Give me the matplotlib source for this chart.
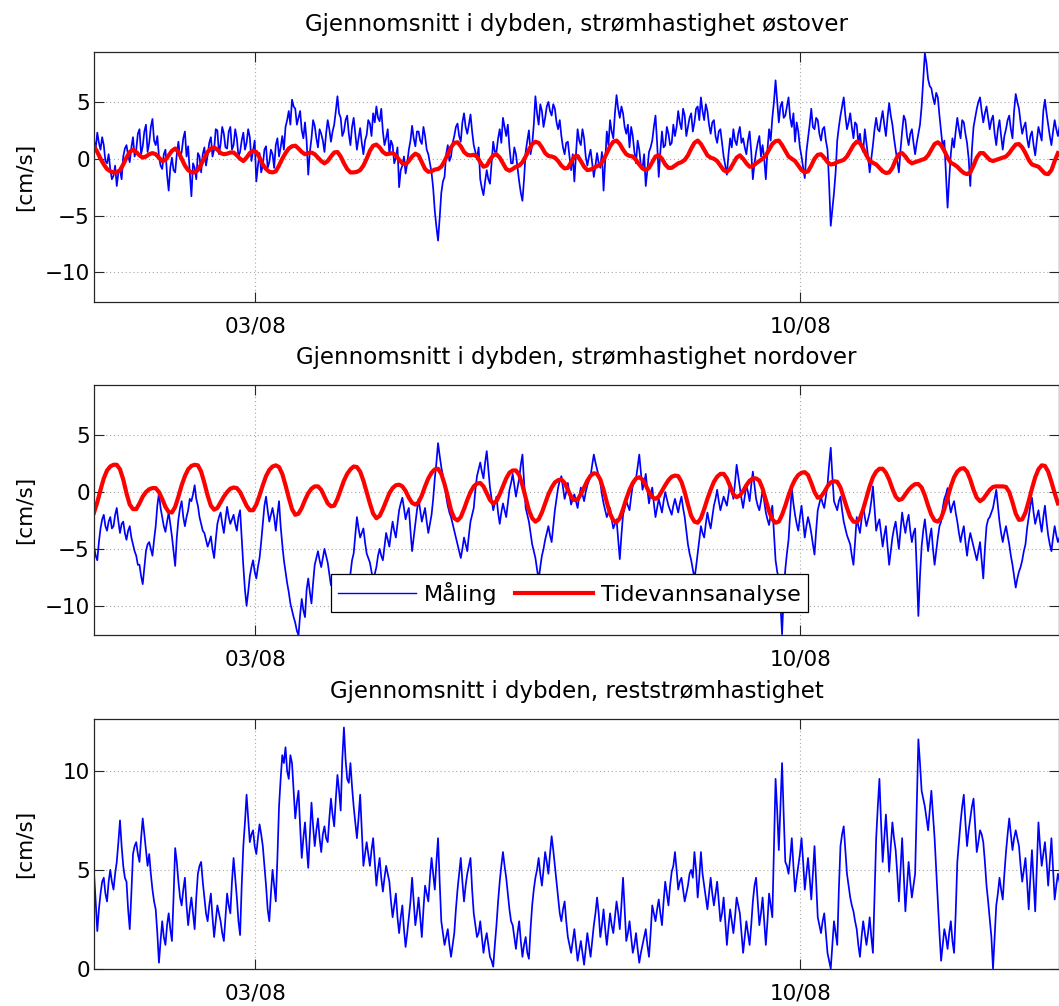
import numpy as np
import matplotlib
matplotlib.use("Agg")
import matplotlib.pyplot as plt
import matplotlib.dates as mdates

plt.rcParams['font.family'] = ['DejaVu Sans']

# measurements every 30 min, tidal analysis every hour, starting 31/07 22:20
start = np.datetime64('2012-07-31T22:20')
x_end = np.datetime64('2012-08-13T07:40')
tick_dates = [np.datetime64('2012-08-03'), np.datetime64('2012-08-10')]

titles = ['Gjennomsnitt i dybden, strømhastighet østover',
          'Gjennomsnitt i dybden, strømhastighet nordover',
          'Gjennomsnitt i dybden, reststrømhastighet']
legend_labels = ['Måling', 'Tidevannsanalyse']

# east component, measured [cm/s], on the hour (:20)
east_meas = [
    1.6, 2.3, 0.8, 1.2, -0.4, -0.9, -1.5, -2.4, -1.0, 0.2,
    1.2, -0.3, 1.9, 0.8, 2.6, 1.1, 3.0, 1.4, 3.5, 1.2,
    0.2, -0.9, 0.8, -2.8, 0.1, -1.2, 1.5, 0.6, 2.4, 1.1,
    -3.3, -0.8, 0.5, -1.2, 1.0, 0.3, 1.9, 0.8, 2.5, 1.3,
    2.2, 0.9, 2.8, 1.2, 1.8, 0.6, 2.3, 1.4, 1.9, 0.7,
    -2.0, 0.5, -0.6, 1.1, -0.3, 0.4, 1.2, 0.2, 2.0, 2.8,
    4.2, 5.2, 4.4, 3.6, 2.5, 3.2, -1.4, 1.8, 2.9, 1.0,
    2.2, 0.6, 3.4, 1.5, 3.0, 5.5, 3.6, 2.4, 3.8, 1.2,
    3.6, 0.8, 2.7, 0.4, 2.1, 3.1, 4.0, 4.6, 3.3, 2.4,
    1.8, 0.4, 1.2, 0.1, -2.5, -0.6, -1.3, 0.8, 2.9, 1.1,
    2.4, 1.3, 2.0, 0.4, -1.2, -4.6, -7.2, -3.0, -1.6, 1.2,
    0.2, 2.0, 3.1, 1.5, 4.0, 2.2, 3.9, 1.2, 0.0, -1.8,
    -3.2, -1.0, -2.2, 1.5, 0.6, 2.6, 3.6, 2.0, 1.0, -0.4,
    0.4, -2.0, -3.7, 0.6, 2.5, 1.2, 5.5, 3.0, 4.2, 3.6,
    5.0, 3.8, 4.4, 2.6, 2.0, 0.4, 1.5, -1.0, -2.0, 2.6,
    1.2, 1.8, -0.6, 0.8, -1.6, 0.5, -0.8, -2.8, 2.4, 3.4,
    1.8, 5.6, 3.6, 4.0, 2.2, 1.0, 2.0, -0.4, 0.8, -0.8,
    -2.4, 0.6, 1.6, 3.8, -1.6, 2.4, 1.2, 2.2, 1.4, 2.0,
    4.2, 2.6, 3.8, 2.8, 4.0, 3.2, 4.6, 5.4, 3.4, 4.2,
    2.2, 3.4, 1.4, 2.6, 0.2, -1.4, 1.8, 2.6, 1.2, 2.8,
    1.8, 0.4, 2.4, -1.8, 0.6, 2.0, 1.2, -1.8, 2.6, 3.6,
    6.9, 3.2, 5.0, 3.8, 5.4, 2.8, 1.5, 2.4, 0.2, -1.7,
    1.8, 4.4, 2.6, 3.4, 1.6, 2.8, 0.8, -5.9, -3.0, 1.6,
    3.8, 5.4, 2.6, 4.0, 1.8, 3.0, 2.2, 0.6, 1.4, -1.2,
    1.2, 3.6, 2.4, 4.2, 2.0, 4.9, 3.0, 0.8, -1.2, 2.4,
    3.4, 1.2, 2.6, 0.4, 2.2, 4.6, 9.3, 7.0, 6.2, 4.8,
    5.4, 2.4, 1.6, -4.3, 0.4, 1.0, 3.6, 1.8, 3.2, 1.4,
    -2.4, 2.8, 4.4, 5.4, 3.2, 4.6, 2.6, 3.8, 1.2, 3.4,
    0.8, 2.6, 3.8, 1.8, 5.7, 4.4, 2.2, 3.2, 1.0, 2.4,
    0.3, 2.8, 1.6, 5.2, 3.0, 1.2, 3.4, 2.0,
]
# east component, measured [cm/s], half past (:50)
east_half = [
    0.9, 1.4, 1.9, -0.2, 0.4, -1.8, -0.6, -1.2, -1.8, 0.9,
    0.3, 1.0, 0.2, 2.2, 0.4, 2.4, 0.6, 2.8, 1.6, 2.0,
    -0.6, 0.4, -1.4, -0.8, -1.0, 0.4, 0.0, 1.8, 0.2, -1.2,
    -0.4, -1.8, 0.2, 0.4, -0.6, 1.4, 0.2, 2.6, 0.4, 2.8,
    1.0, 2.4, 0.8, 2.6, 0.2, 1.6, 0.8, 2.6, -0.2, 1.6,
    -0.6, -1.2, 0.8, -0.8, 0.8, -0.8, 1.8, 1.0, 0.8, 3.4,
    3.0, 4.6, 3.0, 4.2, 1.8, 1.6, 0.6, 3.4, 1.8, 2.6,
    1.6, 2.2, 2.6, 2.4, 4.2, 4.0, 2.0, 3.4, 2.2, 2.8,
    2.2, 1.8, 1.4, 1.6, 3.4, 2.0, 3.2, 3.6, 4.4, 1.2,
    2.6, 1.6, -0.4, 1.0, -1.0, 0.2, -0.4, 1.6, 1.8, 2.4,
    1.6, 2.8, 0.8, -0.4, -2.6, -6.0, -5.2, -2.0, 0.4, -0.2,
    1.4, 2.8, 2.0, 3.2, 2.8, 3.0, 2.4, 0.6, 1.0, -2.6,
    -2.0, -1.8, -0.4, 0.6, 1.8, 1.4, 2.8, 3.0, -0.4, 1.0,
    -0.8, -3.0, -1.8, 1.6, 0.4, 3.0, 4.0, 4.8, 2.8, 4.6,
    4.2, 4.8, 3.2, 3.4, 1.0, 1.4, 0.2, 0.4, 0.4, 1.6,
    2.6, 0.2, 0.2, -0.4, -0.6, -0.4, 0.6, -0.2, 1.2, 2.4,
    4.0, 4.4, 4.6, 2.8, 3.0, 2.8, 0.6, 1.6, -0.6, 0.4,
    -1.0, 1.0, 2.8, 1.4, 0.6, 1.0, 2.8, 1.2, 3.0, 2.8,
    3.2, 4.4, 2.0, 3.6, 2.4, 4.4, 3.4, 4.2, 4.8, 3.0,
    3.2, 2.0, 2.4, 1.4, -0.6, 0.4, 1.0, 1.6, 2.2, 1.4,
    1.0, 1.6, 0.6, -0.4, 1.4, 0.2, 0.0, 0.8, 1.6, 5.0,
    5.0, 4.6, 3.6, 4.6, 3.6, 4.0, 3.2, 1.0, -0.8, 0.6,
    3.0, 2.8, 3.6, 2.2, 2.6, 1.6, -2.2, -4.4, -1.2, 2.8,
    4.6, 3.8, 3.2, 2.8, 3.2, 1.4, 1.0, 2.6, 0.2, 0.0,
    2.6, 2.6, 3.4, 3.0, 3.6, 3.8, 1.8, -0.2, 0.8, 3.8,
    2.0, 2.2, 1.4, 1.4, 3.0, 7.0, 8.4, 6.4, 5.4, 5.8,
    3.8, 1.0, -1.4, -1.8, 1.8, 2.4, 2.6, 3.4, 2.2, 0.0,
    0.8, 3.6, 5.0, 4.2, 4.0, 3.6, 3.4, 2.2, 2.6, 2.0,
    2.0, 3.4, 2.6, 4.2, 5.0, 3.2, 2.8, 1.8, 2.0, 1.2,
    1.6, 2.2, 4.2, 4.0, 2.0, 2.4, 2.6, 2.8,
]

# east component, tidal analysis [cm/s], hourly
east_tide = [
    1.1, 0.6, 0.0, -0.5, -0.9, -1.1, -1.2, -1.2, -1.0, -0.5,
    0.1, 0.6, 0.8, 0.6, 0.3, 0.1, 0.2, 0.4, 0.5, 0.4,
    0.1, -0.2, -0.1, 0.3, 0.7, 0.9, 0.6, 0.0, -0.6, -1.0,
    -1.2, -1.2, -1.0, -0.5, 0.1, 0.6, 0.9, 1.0, 0.8, 0.5,
    0.4, 0.45, 0.55, 0.55, 0.3, 0.0, -0.2, 0.1, 0.5, 0.7,
    0.6, 0.1, -0.5, -0.9, -1.15, -1.2, -1.1, -0.6, 0.0, 0.5,
    0.9, 1.1, 1.15, 0.9, 0.6, 0.4, 0.5, 0.55, 0.4, 0.1,
    -0.2, -0.4, -0.2, 0.2, 0.55, 0.6, 0.2, -0.4, -0.9, -1.2,
    -1.2, -1.15, -1.0, -0.6, 0.0, 0.7, 1.15, 1.25, 1.0, 0.6,
    0.4, 0.45, 0.5, 0.3, -0.1, -0.4, -0.5, -0.2, 0.2, 0.45,
    0.3, -0.3, -0.9, -1.15, -1.1, -0.95, -0.9, -0.7, -0.2, 0.4,
    1.0, 1.4, 1.45, 1.1, 0.6, 0.35, 0.3, 0.35, 0.2, -0.3,
    -0.7, -0.6, -0.1, 0.3, 0.4, 0.1, -0.4, -0.9, -1.05, -0.9,
    -0.7, -0.6, -0.3, 0.2, 0.8, 1.3, 1.5, 1.4, 1.0, 0.5,
    0.25, 0.2, 0.1, -0.2, -0.6, -0.85, -0.8, -0.3, 0.2, 0.25,
    -0.2, -0.7, -1.0, -0.95, -0.8, -0.65, -0.5, -0.1, 0.5, 1.1,
    1.5, 1.6, 1.3, 0.8, 0.4, 0.25, 0.2, -0.1, -0.5, -0.85,
    -1.0, -0.8, -0.3, 0.2, 0.3, 0.0, -0.5, -0.8, -0.8, -0.6,
    -0.4, -0.3, -0.1, 0.3, 0.9, 1.4, 1.6, 1.3, 0.8, 0.3,
    0.1, 0.0, -0.2, -0.6, -1.0, -1.15, -0.9, -0.4, 0.1, 0.3,
    0.0, -0.4, -0.7, -0.65, -0.4, -0.2, 0.0, 0.3, 0.8, 1.3,
    1.55, 1.6, 1.2, 0.7, 0.2, 0.0, -0.2, -0.6, -1.0, -1.2,
    -1.1, -0.6, 0.0, 0.35, 0.4, 0.1, -0.3, -0.5, -0.45, -0.3,
    -0.2, -0.1, 0.2, 0.7, 1.2, 1.5, 1.4, 0.9, 0.3, -0.2,
    -0.35, -0.5, -0.8, -1.1, -1.25, -1.2, -0.8, -0.1, 0.4, 0.5,
    0.2, -0.2, -0.4, -0.3, -0.2, -0.1, 0.0, 0.3, 0.8, 1.3,
    1.45, 1.2, 0.7, 0.1, -0.35, -0.5, -0.7, -1.0, -1.25, -1.35,
    -1.2, -0.6, 0.1, 0.5, 0.5, 0.2, -0.1, -0.2, -0.1, 0.0,
    0.1, 0.2, 0.5, 0.9, 1.25, 1.3, 1.0, 0.5, -0.1, -0.5,
    -0.6, -0.7, -1.0, -1.3, -1.35, -1.0, -0.2, 0.5,
]

# north component, measured [cm/s], on the hour (:20)
north_meas = [
    -4.8, -6.0, -3.2, -2.0, -3.4, -2.2, -3.0, -1.4, -3.6, -2.6,
    -4.2, -3.0, -4.6, -5.6, -6.4, -8.1, -5.2, -4.4, -5.6, -3.0,
    -0.1, -2.2, -3.5, -1.8, -3.9, -6.5, -2.4, -0.8, -3.0, -1.6,
    -0.8, 0.6, -1.2, -2.8, -3.6, -4.8, -3.9, -5.8, -2.8, -1.8,
    -3.6, -1.3, -2.8, -2.0, -3.4, -1.6, -6.5, -10.0, -7.4, -6.0,
    -7.6, -5.8, -2.8, -0.4, -2.6, -1.4, -3.4, -0.8, -4.6, -7.0,
    -8.8, -10.4, -11.5, -12.6, -9.4, -11.0, -7.6, -9.8, -6.4, -5.2,
    -6.6, -5.0, -6.2, -8.2, -7.4, -9.2, -8.6, -9.8, -8.0, -7.2,
    -5.4, -2.2, -4.0, -3.2, -5.4, -6.2, -7.8, -6.6, -5.0, -6.0,
    -3.6, -4.8, -2.6, -4.0, -1.6, -0.5, -2.4, -1.4, -5.2, -2.8,
    -0.6, -2.6, -1.4, -3.6, -2.0, 1.2, 4.3, 2.2, 0.6, -1.2,
    -2.2, -3.4, -4.6, -5.8, -4.0, -5.2, -2.6, -1.4, 1.4, 2.6,
    1.2, 3.6, 0.4, -1.6, -0.4, -2.8, -1.0, -2.2, 0.2, 1.6,
    -0.4, 1.2, 3.3, -1.4, -2.6, -4.6, -5.8, -7.7, -5.6, -4.2,
    -3.0, -4.4, -1.6, 0.4, 1.4, -0.6, 0.8, -1.1, -0.2, -1.4,
    0.4, -0.8, 0.6, 1.4, 3.3, 2.0, 0.8, -1.0, -2.2, -1.4,
    -3.2, -2.4, -5.9, -2.0, -0.8, -1.6, 0.6, 1.2, 3.3, 0.2,
    1.6, -1.0, 0.4, -2.2, -0.6, -1.8, 0.0, -1.2, -2.0, -0.6,
    -1.8, -0.4, -2.2, -4.6, -6.0, -7.6, -5.4, -3.0, -4.0, -1.8,
    -3.2, -1.2, 0.2, -1.6, -0.4, -1.2, 0.8, -0.6, 2.4, 0.4,
    -1.4, 0.6, -0.8, 1.8, -0.6, -1.6, 0.2, -1.8, -2.9, -1.2,
    -6.0, -7.6, -12.5, -6.8, -4.2, 0.35, -2.0, -3.4, -1.2, -4.0,
    -2.2, -3.6, -5.5, -1.6, -0.4, -1.4, 0.6, 3.9, -0.8, -1.6,
    -0.4, -2.6, -3.8, -4.6, -6.4, -2.2, -3.6, -1.2, -3.0, -1.8,
    0.5, -3.4, -2.4, -4.8, -3.0, -6.4, -4.0, -2.6, -5.0, -1.8,
    -3.6, -2.0, -4.4, -3.2, -10.9, -4.8, -2.4, -5.2, -3.2, -6.4,
    -4.0, -2.6, -0.6, 0.35, -1.8, -0.8, -2.6, -4.4, -3.0, -5.6,
    -3.6, -4.8, -6.0, -4.4, -7.6, -3.0, -2.2, -1.4, 0.2, -2.6,
    -4.4, -3.0, -4.6, -6.4, -8.4, -7.0, -6.0, -4.6, -2.2, -0.5,
    -2.8, -1.6, -3.5, -1.2, -3.8, -5.2, -3.0, -4.4,
]
# north component, measured [cm/s], half past (:50)
north_half = [
    -5.6, -4.4, -2.4, -3.0, -2.6, -3.2, -2.0, -2.6, -2.8, -3.6,
    -3.4, -4.0, -5.2, -6.4, -7.4, -6.6, -4.6, -5.0, -4.2, -1.2,
    -1.4, -3.0, -2.6, -2.8, -5.2, -4.0, -1.4, -2.2, -2.2, -0.6,
    -0.2, -0.6, -2.2, -3.4, -4.2, -4.4, -5.0, -4.2, -2.2, -2.8,
    -2.4, -2.2, -2.4, -2.8, -2.2, -4.0, -8.6, -8.8, -6.6, -7.0,
    -6.6, -4.4, -1.2, -1.6, -2.0, -2.2, -2.0, -3.0, -6.0, -8.0,
    -9.8, -11.0, -12.2, -10.8, -10.4, -8.6, -8.8, -8.0, -5.8, -6.0,
    -5.8, -5.6, -7.2, -7.8, -8.4, -9.0, -9.4, -8.8, -7.6, -6.0,
    -3.8, -3.2, -3.6, -4.4, -5.8, -7.0, -7.2, -5.6, -5.6, -4.8,
    -4.2, -3.6, -3.4, -2.8, -1.0, -1.4, -1.8, -3.4, -4.0, -1.6,
    -1.6, -2.0, -2.6, -2.8, -0.6, 2.6, 3.2, 1.4, -0.4, -1.8,
    -2.8, -4.0, -5.2, -5.0, -4.6, -3.8, -2.0, 0.2, 2.0, 1.8,
    2.6, 2.0, -0.6, -1.0, -1.8, -1.8, -1.6, -1.0, 0.8, 0.6,
    0.4, 2.4, 1.0, -2.0, -3.6, -5.2, -6.8, -6.6, -5.0, -3.6,
    -3.8, -3.0, -0.6, 1.0, 0.4, 0.0, -0.2, -0.6, -0.8, -0.4,
    -0.2, 0.0, 1.0, 2.4, 2.6, 1.4, -0.2, -1.6, -1.8, -2.4,
    -2.8, -4.2, -3.8, -1.4, -1.2, -0.4, 0.8, 2.2, 1.8, 0.8,
    0.2, -0.2, -1.0, -1.4, -1.2, -0.8, -0.6, -1.6, -1.2, -1.2,
    -1.0, -1.4, -3.4, -5.4, -6.8, -6.6, -4.2, -3.6, -2.8, -2.6,
    -2.2, -0.6, -0.8, -1.0, -0.8, -0.2, 0.2, 0.8, 1.4, -0.6,
    -0.4, 0.0, 0.6, 0.6, -1.2, -0.8, -0.8, -2.4, -2.0, -3.6,
    -7.0, -9.8, -9.0, -5.4, -2.0, -1.0, -2.8, -2.2, -2.6, -3.0,
    -2.8, -4.6, -3.4, -1.0, -1.0, -0.4, 2.4, 1.4, -1.2, -0.8,
    -1.6, -3.2, -4.2, -5.6, -4.4, -3.0, -2.4, -2.2, -2.4, -0.8,
    -1.4, -2.8, -3.6, -3.8, -4.8, -5.2, -3.2, -3.8, -3.4, -2.8,
    -2.6, -3.4, -3.6, -6.8, -7.4, -3.4, -3.8, -4.0, -5.0, -5.2,
    -3.0, -1.4, -0.2, -1.0, -1.2, -1.8, -3.6, -3.6, -4.4, -4.4,
    -4.2, -5.4, -5.2, -6.0, -5.0, -2.4, -1.8, -0.6, -1.2, -3.6,
    -3.6, -3.8, -5.6, -7.4, -7.6, -6.6, -5.2, -3.2, -1.2, -1.8,
    -2.2, -2.6, -2.2, -2.6, -4.6, -4.0, -3.8, -4.0,
]

# north component, tidal analysis [cm/s], hourly
north_tide = [
    -1.8, -0.9, 0.2, 1.2, 1.9, 2.25, 2.4, 2.4, 2.0, 1.1,
    -0.1, -1.1, -1.5, -1.5, -1.0, -0.4, 0.0, 0.25, 0.35, 0.35,
    0.0, -0.6, -1.3, -1.75, -1.8, -1.3, -0.4, 0.6, 1.4, 2.0,
    2.3, 2.4, 2.35, 1.8, 0.8, -0.3, -1.2, -1.55, -1.4, -0.9,
    -0.4, 0.0, 0.3, 0.4, 0.35, 0.0, -0.6, -1.2, -1.6, -1.6,
    -1.1, -0.3, 0.6, 1.4, 1.95, 2.25, 2.35, 2.2, 1.6, 0.6,
    -0.5, -1.5, -2.0, -1.9, -1.4, -0.7, -0.1, 0.3, 0.5, 0.5,
    0.2, -0.4, -1.0, -1.25, -1.2, -0.6, 0.2, 1.0, 1.6, 2.0,
    2.25, 2.2, 1.8, 1.0, 0.0, -1.0, -1.9, -2.3, -2.1, -1.5,
    -0.8, -0.1, 0.35, 0.6, 0.65, 0.5, 0.1, -0.5, -0.95, -1.1,
    -0.9, -0.3, 0.5, 1.2, 1.7, 2.0, 2.05, 1.6, 0.7, -0.4,
    -1.6, -2.3, -2.5, -2.2, -1.5, -0.7, 0.0, 0.5, 0.75, 0.8,
    0.5, -0.1, -0.7, -1.0, -0.8, -0.2, 0.5, 1.2, 1.7, 1.9,
    1.9, 1.5, 0.6, -0.5, -1.6, -2.3, -2.6, -2.4, -1.8, -1.0,
    -0.2, 0.4, 0.85, 1.05, 1.1, 0.8, 0.2, -0.4, -0.7, -0.65,
    -0.2, 0.4, 1.0, 1.45, 1.65, 1.6, 1.1, 0.2, -0.9, -1.9,
    -2.5, -2.65, -2.3, -1.5, -0.6, 0.2, 0.8, 1.2, 1.3, 1.1,
    0.6, 0.0, -0.45, -0.6, -0.4, 0.1, 0.6, 1.05, 1.35, 1.45,
    1.4, 0.9, 0.0, -1.1, -2.1, -2.6, -2.7, -2.3, -1.5, -0.6,
    0.2, 0.9, 1.35, 1.6, 1.6, 1.2, 0.5, -0.2, -0.45, -0.3,
    0.1, 0.6, 1.0, 1.2, 1.2, 1.0, 0.3, -0.7, -1.7, -2.4,
    -2.7, -2.6, -2.0, -1.2, -0.3, 0.5, 1.1, 1.5, 1.7, 1.75,
    1.5, 0.8, 0.0, -0.5, -0.4, 0.0, 0.5, 0.85, 0.95, 0.9,
    0.4, -0.5, -1.4, -2.2, -2.6, -2.65, -2.3, -1.5, -0.5, 0.5,
    1.3, 1.8, 2.05, 2.05, 1.7, 1.1, 0.3, -0.4, -0.7, -0.6,
    -0.2, 0.2, 0.5, 0.7, 0.7, 0.4, -0.3, -1.2, -2.0, -2.5,
    -2.6, -2.3, -1.5, -0.5, 0.5, 1.3, 1.8, 2.05, 2.1, 1.8,
    1.1, 0.2, -0.5, -0.8, -0.6, -0.2, 0.2, 0.45, 0.5, 0.5,
    0.5, 0.45, 0.0, -0.9, -1.9, -2.45, -2.4, -1.8, -0.8, 0.3,
    1.3, 2.0, 2.35, 2.3, 1.8, 0.9, -0.1, -1.0,
]

# residual speed, measured [cm/s], on the hour (:20)
resid_meas = [
    4.8, 1.9, 3.8, 4.6, 3.4, 5.0, 4.0, 5.4, 7.5, 5.2,
    4.4, 2.0, 5.8, 6.4, 5.4, 7.6, 6.0, 5.8, 4.0, 3.0,
    0.3, 2.4, 1.2, 2.8, 1.4, 6.1, 4.4, 3.2, 4.6, 2.2,
    3.6, 2.0, 4.8, 5.4, 3.6, 2.4, 3.8, 1.6, 3.2, 2.4,
    1.4, 3.8, 2.8, 5.6, 3.6, 1.7, 6.2, 8.8, 6.4, 7.0,
    5.8, 7.3, 6.2, 4.2, 2.4, 5.0, 3.4, 8.2, 10.8, 11.2,
    9.6, 10.4, 7.6, 9.0, 5.6, 7.4, 5.1, 8.4, 6.2, 7.6,
    5.9, 7.2, 6.4, 8.6, 7.2, 9.8, 8.0, 12.2, 9.6, 10.4,
    8.2, 6.6, 8.8, 5.2, 6.4, 5.2, 6.6, 4.2, 5.6, 3.9,
    5.2, 4.4, 2.6, 3.8, 1.8, 3.2, 1.1, 2.6, 4.6, 2.2,
    3.6, 1.6, 4.2, 3.4, 5.6, 4.0, 6.6, 2.4, 1.2, 2.0,
    0.6, 1.8, 4.0, 5.6, 3.4, 4.8, 5.6, 2.8, 1.6, 2.4,
    0.8, 1.8, 0.6, 0.1, 2.2, 4.4, 5.9, 4.6, 3.0, 2.2,
    1.0, 2.4, 0.6, 1.6, 0.5, 3.2, 4.6, 5.6, 4.2, 5.9,
    4.8, 6.7, 5.2, 3.6, 2.4, 3.4, 1.6, 0.8, 2.0, 0.4,
    1.4, 0.2, 1.8, 0.6, 2.2, 3.6, 1.6, 3.0, 1.2, 2.8,
    1.8, 3.4, 2.0, 4.6, 1.4, 2.4, 0.8, 1.8, 0.3, 1.2,
    2.0, 0.6, 3.2, 2.4, 3.5, 2.2, 4.4, 3.2, 4.9, 5.9,
    4.0, 4.6, 3.4, 4.2, 5.0, 5.9, 3.6, 5.9, 4.2, 3.0,
    4.6, 3.2, 4.4, 2.4, 3.6, 1.2, 3.0, 1.8, 3.6, 2.8,
    0.8, 2.4, 1.2, 3.4, 4.6, 2.2, 3.6, 1.2, 3.8, 2.6,
    9.6, 6.0, 10.4, 5.4, 4.8, 6.6, 3.9, 5.2, 6.6, 4.0,
    5.6, 3.5, 6.2, 2.6, 1.8, 2.8, 0.8, 0.0, 2.4, 1.2,
    6.2, 7.2, 4.8, 3.6, 2.9, 2.0, 0.6, 2.4, 1.2, 2.6,
    0.8, 6.6, 9.6, 5.4, 7.8, 4.9, 7.4, 6.0, 3.4, 6.6,
    2.9, 5.4, 3.6, 4.8, 11.6, 9.0, 8.2, 7.0, 9.0, 6.6,
    3.5, 0.4, 2.0, 1.0, 2.4, 0.8, 5.4, 7.4, 8.8, 6.2,
    7.6, 8.6, 5.9, 7.0, 6.4, 4.2, 2.5, 0.0, 3.2, 4.6,
    3.5, 5.9, 7.6, 6.0, 7.0, 6.2, 4.4, 5.6, 3.0, 6.0,
    2.9, 7.4, 5.2, 6.4, 4.2, 6.6, 3.5, 4.8,
]
# residual speed, measured [cm/s], half past (:50)
resid_half = [
    3.4, 3.0, 4.4, 3.8, 4.4, 4.4, 4.8, 6.4, 6.2, 4.6,
    3.0, 3.8, 6.2, 5.8, 6.6, 6.8, 5.2, 4.8, 3.4, 1.8,
    1.4, 1.6, 2.2, 2.0, 3.6, 5.4, 3.6, 4.0, 3.2, 3.0,
    2.8, 3.6, 5.2, 4.4, 2.8, 3.2, 2.6, 2.4, 2.8, 1.8,
    2.6, 3.2, 4.4, 4.6, 2.4, 4.2, 7.4, 7.6, 6.8, 6.2,
    6.6, 6.8, 5.2, 3.0, 3.8, 4.2, 5.6, 9.6, 10.4, 10.0,
    10.8, 9.0, 8.4, 7.2, 6.6, 6.2, 6.8, 7.2, 7.0, 6.6,
    6.8, 6.6, 7.6, 7.8, 8.6, 9.0, 10.6, 10.6, 9.4, 9.2,
    7.4, 7.6, 7.0, 5.8, 5.8, 6.0, 5.4, 5.0, 4.6, 4.6,
    4.8, 3.4, 3.2, 2.6, 2.6, 2.0, 1.8, 3.4, 3.4, 2.8,
    2.6, 3.0, 3.8, 4.6, 4.8, 5.4, 4.4, 1.8, 1.6, 1.2,
    1.2, 3.0, 4.8, 4.4, 4.2, 5.2, 4.0, 2.2, 1.8, 1.6,
    1.4, 1.2, 0.4, 1.2, 3.4, 5.2, 5.2, 3.8, 2.4, 1.6,
    1.8, 1.4, 1.2, 0.8, 2.0, 4.0, 5.0, 4.8, 5.0, 5.4,
    5.8, 6.0, 4.4, 2.8, 3.0, 2.4, 1.2, 1.4, 1.2, 0.9,
    0.8, 1.0, 1.2, 1.4, 2.8, 2.8, 2.2, 2.0, 2.0, 2.2,
    2.6, 2.8, 3.2, 3.0, 1.8, 1.6, 1.2, 1.0, 0.8, 1.6,
    1.2, 1.8, 2.8, 3.0, 2.8, 3.4, 3.8, 4.2, 5.2, 5.0,
    4.4, 4.0, 3.8, 4.8, 4.6, 5.0, 4.6, 4.8, 3.6, 3.8,
    3.8, 3.8, 3.4, 2.8, 2.4, 2.2, 2.4, 2.6, 3.2, 1.8,
    1.6, 1.8, 2.2, 4.2, 3.4, 2.8, 2.4, 2.4, 3.2, 6.2,
    8.0, 8.2, 7.8, 5.2, 5.6, 5.2, 4.6, 5.8, 5.4, 4.8,
    4.6, 4.8, 4.4, 2.2, 2.4, 1.8, 0.4, 1.2, 1.8, 4.0,
    6.8, 6.0, 4.2, 3.2, 2.4, 1.2, 1.6, 1.8, 1.8, 1.6,
    3.8, 8.2, 7.4, 6.6, 6.4, 6.2, 6.6, 4.8, 5.0, 4.8,
    4.2, 4.4, 4.2, 8.2, 10.4, 8.6, 7.6, 8.0, 7.8, 5.0,
    1.8, 1.2, 1.6, 1.8, 1.4, 2.8, 6.4, 8.2, 7.4, 7.0,
    8.2, 7.2, 6.4, 6.8, 5.4, 3.4, 1.6, 1.6, 3.8, 4.0,
    4.8, 6.8, 6.8, 6.6, 6.6, 5.2, 5.0, 4.4, 4.6, 4.4,
    5.2, 6.2, 5.8, 5.4, 5.4, 5.0, 4.2, 4.4,
]


def merge(on_hour, half_past):
    out = np.empty(2 * len(on_hour))
    out[0::2] = on_hour
    out[1::2] = half_past
    return out


n = len(east_tide)
t_tide = start + np.arange(n) * np.timedelta64(60, 'm')
t_meas = start + np.arange(2 * n) * np.timedelta64(30, 'm')

fig = plt.figure(figsize=(10.59, 10.06), dpi=100)
left, width, height = 0.0888, 0.9112, 0.2486
bottoms = [0.6998, 0.3685, 0.0371]


def style(ax, ylim, yticks, title):
    ax.set_xlim(start, x_end)
    ax.set_ylim(ylim)
    ax.set_yticks(yticks)
    ax.set_xticks(tick_dates)
    ax.xaxis.set_major_formatter(mdates.DateFormatter('%d/%m'))
    ax.grid(True, linestyle=(0, (1, 2.5)), color='#a8a8a8', linewidth=0.8)
    ax.tick_params(direction='in', length=7.2, width=0.8, top=True, right=True,
                   labelsize=15.5, colors='#262626', labelcolor='black')
    ax.tick_params(axis='x', pad=10.5)
    ax.tick_params(axis='y', pad=3)
    for s in ax.spines.values():
        s.set_color('#262626')
        s.set_linewidth(0.9)
    ax.set_ylabel('[cm/s]', fontsize=15.5, va='center')
    ax.yaxis.set_label_coords(-0.0715, 0.5)
    ax.set_title(title, fontsize=16.5, pad=15)


blue_lw = 1.25

ax1 = fig.add_axes([left, bottoms[0], width, height])
ax1.plot(t_meas, merge(east_meas, east_half), color='#0000ff', lw=blue_lw)
ax1.plot(t_tide, east_tide, color='#ff0000', lw=3.0)
style(ax1, (-12.6, 9.4), [-10, -5, 0, 5], titles[0])

ax2 = fig.add_axes([left, bottoms[1], width, height])
l1, = ax2.plot(t_meas, merge(north_meas, north_half), color='#0000ff', lw=blue_lw)
l2, = ax2.plot(t_tide, north_tide, color='#ff0000', lw=3.0)
style(ax2, (-12.6, 9.4), [-10, -5, 0, 5], titles[1])
leg = ax2.legend([l1, l2], legend_labels, loc='lower center',
                 bbox_to_anchor=(0.4927, 0.047), ncol=2, fontsize=16,
                 handlelength=3.5, handletextpad=0.35, columnspacing=0.8,
                 borderpad=0.35, fancybox=False, framealpha=1)
leg.get_frame().set_edgecolor('black')
leg.get_frame().set_linewidth(0.9)
leg.get_lines()[0].set_linewidth(1.0)

ax3 = fig.add_axes([left, bottoms[2], width, height])
ax3.plot(t_meas, merge(resid_meas, resid_half), color='#0000ff', lw=blue_lw)
style(ax3, (0, 12.65), [0, 5, 10], titles[2])

fig.savefig('out.png', dpi=100)
